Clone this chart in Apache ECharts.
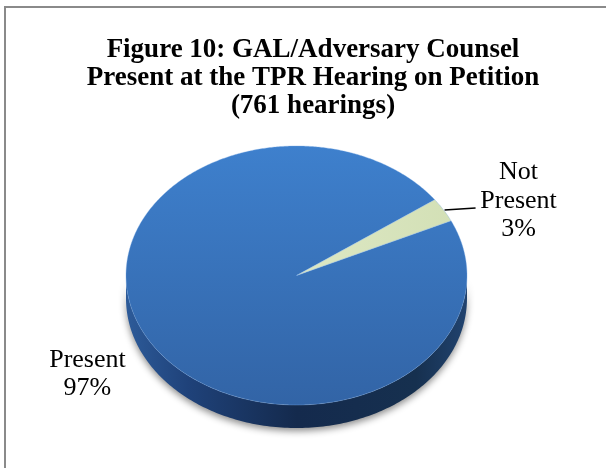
<!DOCTYPE html>
<html>
<head>
<meta charset="utf-8">
<script src="https://cdn.jsdelivr.net/npm/echarts/dist/echarts.min.js"></script>
<style>
  html, body { margin: 0; padding: 0; background: #ffffff; }
  #chart { width: 606px; height: 468px; }
</style>
</head>
<body>
<div id="chart"></div>
<script>
// ---- data ----
const categories = ['Present', 'Not Present'];
const percentValues = [97, 3];
const labelLines = [['Present', '97%'], ['Not', 'Present', '3%']];
const titleLines = [
  'Figure 10: GAL/Adversary Counsel',
  'Present at the TPR Hearing on Petition',
  '(761 hearings)'
];

// ---- look ----
const SERIF = 'Liberation Serif';
const START_DEG = 65;          // first slice starts here, clockwise from 12 o'clock
const DEPTH = 0.178;           // pie thickness, in unit-radius y units
const topFills = [
  new echarts.graphic.LinearGradient(0, 0, 0, 1, [
    { offset: 0, color: '#3e80cd' },
    { offset: 1, color: '#3264a6' }
  ]),
  new echarts.graphic.LinearGradient(0, 0, 1, 0, [
    { offset: 0, color: '#dde8c4' },
    { offset: 1, color: '#d3e0b6' }
  ])
];
const sideFill = new echarts.graphic.LinearGradient(0, 0, 1, 0, [
  { offset: 0, color: '#2d5b99' },
  { offset: 0.18, color: '#1f427a' },
  { offset: 0.5, color: '#142a4d' },
  { offset: 0.85, color: '#16304f' },
  { offset: 1, color: '#21436f' }
]);
// label placement relative to the slice's mid-angle rim point (px)
const labelLayout = [
  { dx: -62, dy: 33, leader: null },
  { dx: 75, dy: -9, leader: [[1, 0], [32, -2]] }
];

// cumulative start of each slice
const total = percentValues.reduce((s, v) => s + v, 0);
const starts = [];
percentValues.reduce((acc, v, i) => { starts[i] = acc; return acc + v; }, 0);
const sliceData = percentValues.map((v, i) => ({
  name: categories[i],
  value: [starts[i], v]
}));

function toRad(deg) { return deg * Math.PI / 180; }
function rimPoint(api, deg, drop) {
  const r = toRad(deg);
  return api.coord([Math.sin(r), Math.cos(r) - (drop || 0)]);
}
function sliceAngles(api) {
  const a0 = START_DEG + api.value(0) / total * 360;
  const a1 = a0 + api.value(1) / total * 360;
  return [a0, a1];
}

// front wall (visible between 90deg and 270deg)
function renderSide(params, api) {
  const [a0, a1] = sliceAngles(api);
  const children = [];
  for (let k = -1; k <= 1; k++) {
    const lo = Math.max(a0, 90 + 360 * k);
    const hi = Math.min(a1, 270 + 360 * k);
    if (hi <= lo) continue;
    const upper = [], lower = [];
    for (let d = lo; d < hi; d += 1) {
      upper.push(rimPoint(api, d));
      lower.push(rimPoint(api, d, DEPTH));
    }
    upper.push(rimPoint(api, hi));
    lower.push(rimPoint(api, hi, DEPTH));
    children.push({
      type: 'polygon',
      shape: { points: upper.concat(lower.reverse()) },
      style: {
        fill: sideFill,
        shadowBlur: 7,
        shadowColor: 'rgba(0,0,0,0.45)',
        shadowOffsetY: 3
      }
    });
  }
  return { type: 'group', children };
}

// top face plus the slice label
function renderTop(params, api) {
  const i = params.dataIndex;
  const [a0, a1] = sliceAngles(api);
  const pts = [api.coord([0, 0])];
  for (let d = a0; d < a1; d += 0.5) pts.push(rimPoint(api, d));
  pts.push(rimPoint(api, a1));
  const children = [{
    type: 'polygon',
    shape: { points: pts },
    style: { fill: topFills[i], stroke: 'rgba(120,170,230,0.35)', lineWidth: 1 }
  }];

  const mid = rimPoint(api, (a0 + a1) / 2);
  const lay = labelLayout[i];
  const lines = labelLines[i].slice();
  lines[lines.length - 1] = Math.round(api.value(1) / total * 100) + '%';
  children.push({
    type: 'text',
    x: mid[0] + lay.dx,
    y: mid[1] + lay.dy,
    style: {
      text: lines.join('\n'),
      fontFamily: SERIF,
      fontSize: 26,
      lineHeight: 28.5,
      fill: '#000000',
      align: 'center',
      verticalAlign: 'middle'
    }
  });
  if (lay.leader) {
    children.push({
      type: 'polyline',
      shape: { points: lay.leader.map(p => [mid[0] + p[0], mid[1] + p[1]]) },
      style: { stroke: '#000000', lineWidth: 1.5, fill: null }
    });
  }
  return { type: 'group', children };
}

const chart = echarts.init(document.getElementById('chart'), null, { renderer: 'canvas' });
chart.setOption({
  animation: false,
  backgroundColor: '#ffffff',
  title: {
    text: titleLines.join('\n'),
    left: 308,
    top: 31,
    textAlign: 'center',
    textStyle: {
      fontFamily: SERIF,
      fontWeight: 'bold',
      fontSize: 27,
      lineHeight: 28,
      color: '#000000'
    }
  },
  graphic: [{
    type: 'rect',
    shape: { x: 5, y: 7, width: 640, height: 500 },
    style: { fill: null, stroke: '#8a8a8a', lineWidth: 2 },
    silent: true,
    z: 100
  }],
  grid: { left: 126, top: 146, width: 341, height: 259, show: false },
  xAxis: { type: 'value', min: -1, max: 1, show: false },
  yAxis: { type: 'value', min: -1, max: 1, show: false },
  series: [
    { type: 'custom', name: 'side', renderItem: renderSide, data: sliceData, z: 1, clip: false, silent: true },
    { type: 'custom', name: 'top', renderItem: renderTop, data: sliceData, z: 2, clip: false, silent: true }
  ]
});
</script>
</body>
</html>
